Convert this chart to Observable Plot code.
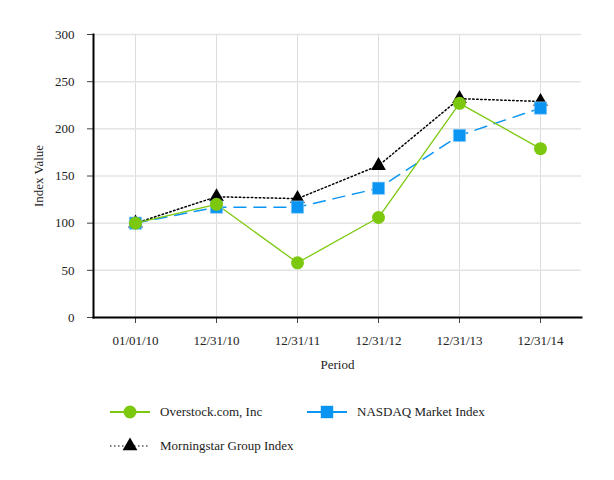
<!DOCTYPE html>
<html>
<head>
<meta charset="utf-8">
<script src="https://cdn.jsdelivr.net/npm/d3@7"></script>
<script src="https://cdn.jsdelivr.net/npm/@observablehq/plot@0.6"></script>
<style>
  body { margin: 0; background: #fff; font-family: "Liberation Serif", serif; }
  #chart { width: 614px; }
  .legend { position: relative; width: 614px; height: 95px; font-family: "Liberation Serif", serif; font-size: 13px; color: #222; }
  .item { position: absolute; display: flex; align-items: center; }
  .item span { margin-left: 8px; }
</style>
</head>
<body>
<div id="chart"></div>
<div class="legend" id="legend"></div>
<script>
const periods = ["01/01/10", "12/31/10", "12/31/11", "12/31/12", "12/31/13", "12/31/14"];
const overstock = [100, 120, 58, 106, 227, 179];
const nasdaq = [100, 117, 117, 137, 193, 222];
const morningstar = [100, 128, 126, 161, 232, 229];
const yTicks = [0, 50, 100, 150, 200, 250, 300];
const seriesNames = ["Overstock.com, Inc", "NASDAQ Market Index", "Morningstar Group Index"];

const green = "#7cc80f";
const blue = "#0a95f2";
const black = "#000";

const toRows = (vals) => periods.map((p, i) => ({period: p, value: vals[i]}));
const ov = toRows(overstock), nq = toRows(nasdaq), ms = toRows(morningstar);

const chart = Plot.plot({
  width: 614,
  height: 385,
  marginTop: 34,
  marginBottom: 68,
  marginLeft: 93,
  marginRight: 33,
  style: {fontFamily: "'Liberation Serif', serif", fontSize: "13px", color: "#222", background: "#fff"},
  x: {type: "point", domain: periods, padding: 0.5},
  y: {domain: [0, 300]},
  marks: [
    Plot.gridX(periods, {stroke: "#dcdcdc", strokeOpacity: 1, strokeWidth: 1}),
    Plot.gridY(yTicks, {stroke: "#e4e4e4", strokeOpacity: 1, strokeWidth: 1.5}),
    Plot.axisX(periods, {tickSize: 6, tickPadding: 12, label: "Period", labelAnchor: "center", labelArrow: "none", labelOffset: 51, stroke: "#444", fontSize: 13}),
    Plot.axisY(yTicks, {tickSize: 6, tickPadding: 13, label: "Index Value", labelAnchor: "center", labelArrow: "none", labelOffset: 60, stroke: "#444", fontSize: 13}),
    Plot.frame({anchor: "left", stroke: "#000", strokeWidth: 2}),
    Plot.frame({anchor: "bottom", stroke: "#000", strokeWidth: 2}),
    Plot.line(ms, {x: "period", y: "value", stroke: black, strokeWidth: 1.5, strokeDasharray: "1.5,2.5"}),
    Plot.line(nq, {x: "period", y: "value", stroke: blue, strokeWidth: 1.5, strokeDasharray: "12,8"}),
    Plot.line(ov, {x: "period", y: "value", stroke: green, strokeWidth: 1.3}),
    Plot.dot(ms, {x: "period", y: "value", symbol: "triangle", r: 5.5, fill: black, stroke: "none"}),
    Plot.dot(nq, {x: "period", y: "value", symbol: "square", r: 7, fill: blue, stroke: "#9fd3fa", strokeWidth: 0.6}),
    Plot.dot(ov, {x: "period", y: "value", symbol: "circle", r: 6.5, fill: green, stroke: "none"})
  ]
});
document.getElementById("chart").appendChild(chart);

// legend
const legendItems = [
  {name: seriesNames[0], color: green, dash: null, symbol: d3.symbolCircle, r: 6.5, left: 110, top: 18},
  {name: seriesNames[1], color: blue, dash: null, symbol: d3.symbolSquare, r: 7, left: 307, top: 18},
  {name: seriesNames[2], color: black, dash: "1.5,2.5", symbol: d3.symbolTriangle, r: 5.5, left: 110, top: 52}
];
const legend = d3.select("#legend");
for (const it of legendItems) {
  const div = legend.append("div").attr("class", "item").style("left", it.left + "px").style("top", (it.top) + "px");
  const svg = div.append("svg").attr("width", 42).attr("height", 18);
  svg.append("line").attr("x1", 0).attr("x2", 40).attr("y1", 9).attr("y2", 9)
    .attr("stroke", it.color).attr("stroke-width", it.dash ? 1.2 : 1.8)
    .attr("stroke-dasharray", it.dash);
  svg.append("path").attr("transform", "translate(20,9)")
    .attr("d", d3.symbol(it.symbol, Math.PI * it.r * it.r)())
    .attr("fill", it.color);
  div.append("span").text(it.name);
}
</script>
</body>
</html>
